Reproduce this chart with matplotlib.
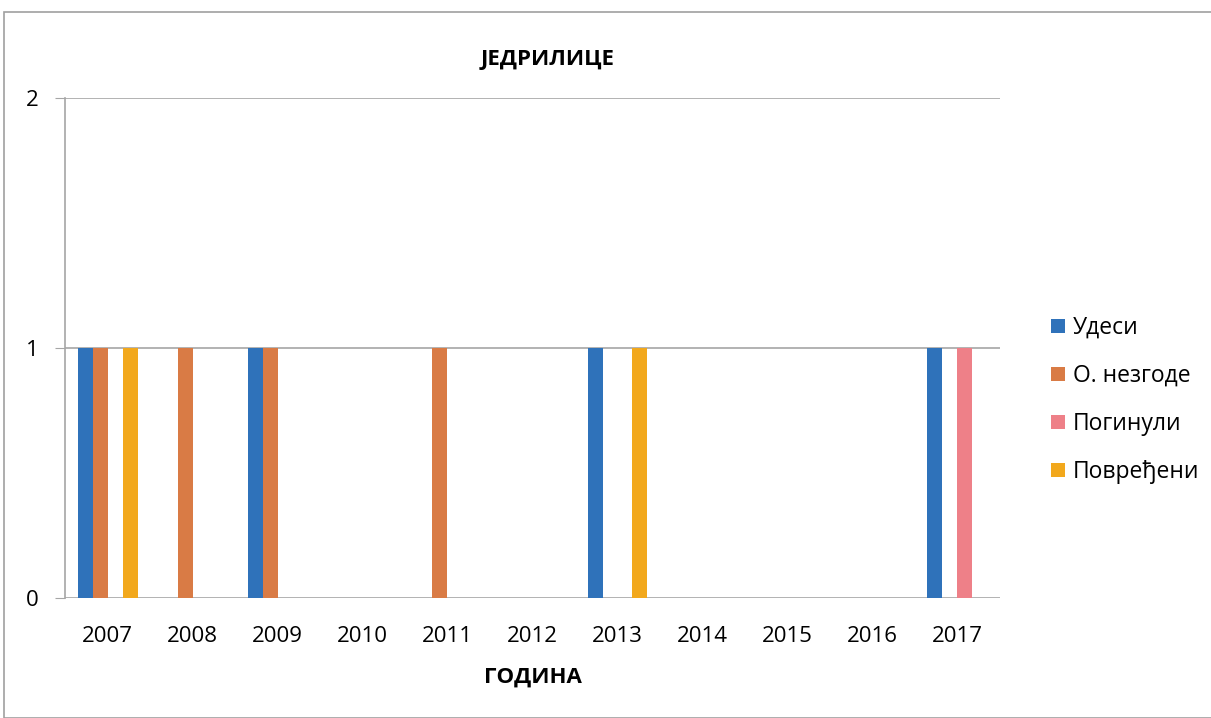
import matplotlib
matplotlib.use("Agg")
import matplotlib.pyplot as plt
import numpy as np
from matplotlib.patches import Rectangle

years = ["2007", "2008", "2009", "2010", "2011", "2012", "2013", "2014", "2015", "2016", "2017"]
udesi = [1, 0, 1, 0, 0, 0, 1, 0, 0, 0, 1]
nezgode = [1, 1, 1, 0, 1, 0, 0, 0, 0, 0, 0]
poginuli = [0, 0, 0, 0, 0, 0, 0, 0, 0, 0, 1]
povredjeni = [1, 0, 0, 0, 0, 0, 1, 0, 0, 0, 0]
series_names = ["Удеси", "О. незгоде", "Погинули", "Повређени"]
colors = ["#2F72BA", "#D97B45", "#EE8088", "#F2A81C"]

plt.rcParams['font.family'] = ['Open Sans', 'DejaVu Sans']

fig = plt.figure(figsize=(12.11, 7.18), dpi=100)
ax = fig.add_axes([65/1211, 120/718, 935/1211, 500/718])

x = np.arange(len(years))
w = 15/85
data = [udesi, nezgode, poginuli, povredjeni]
for i, (vals, name, c) in enumerate(zip(data, series_names, colors)):
    ax.bar(x + (i - 1.5) * w, vals, width=w, color=c, label=name, zorder=3)

ax.set_xlim(-0.5, len(years) - 0.5)
ax.set_ylim(0, 2)
ax.set_yticks([0, 1, 2])
ax.set_yticklabels(["0", "1", "2"], fontsize=16)
ax.set_xticks(x)
ax.set_xticklabels(years, fontsize=16)
ax.yaxis.grid(True, color="#A6A6A6", linewidth=1.2, zorder=0)
for s in ["top", "right", "bottom"]:
    ax.spines[s].set_visible(False)
ax.spines["left"].set_color("#A6A6A6")
ax.spines["left"].set_linewidth(1.2)
ax.tick_params(axis="y", length=7, color="#A6A6A6", pad=12)
ax.tick_params(axis="x", length=0, pad=20)

ax.set_title("ЈЕДРИЛИЦЕ", fontsize=16, fontweight="bold", pad=24, x=0.5 + 15/935)
ax.set_xlabel("ГОДИНА", fontsize=16, fontweight="bold", labelpad=14)

leg = fig.legend(*ax.get_legend_handles_labels(), loc="center left",
                 bbox_to_anchor=(1040/1211, 1 - 400/718), frameon=False, borderpad=0,
                 fontsize=16.5, handlelength=0.6, handleheight=0.6, labelspacing=1.05,
                 handletextpad=0.35)

fig.patches.append(Rectangle((4/1211, 0.0), 1.2, 1 - 12/718, transform=fig.transFigure,
                             fill=False, edgecolor="#A0A0A0", linewidth=1.2))

fig.savefig("out.png", dpi=100, facecolor="white")
